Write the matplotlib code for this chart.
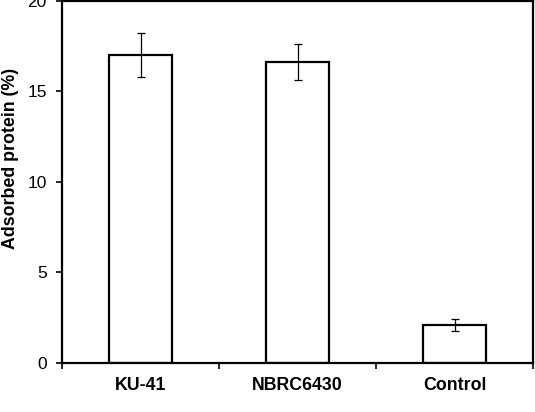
import matplotlib.pyplot as plt
import numpy as np

plt.rcParams['font.family'] = ['Liberation Sans', 'DejaVu Sans']

categories = ['KU-41', 'NBRC6430', 'Control']
values = [17.0, 16.6, 2.1]
errors = [1.2, 1.0, 0.35]
yticks = [0, 5, 10, 15, 20]

fig = plt.figure(figsize=(5.35, 4.12), dpi=100)
ax = fig.add_axes([0.1159, 0.119, 0.8804, 0.8795])

x = np.arange(len(categories))
ax.bar(x, values, width=0.4, color='white', edgecolor='black', linewidth=1.6, zorder=2)
ax.errorbar(x, values, yerr=errors, fmt='none', ecolor='black', elinewidth=0.9,
            capsize=3, capthick=0.9, zorder=3)

ax.set_xlim(-0.5, len(categories) - 0.5)
ax.set_ylim(0, 20)
ax.set_yticks(yticks)
ax.set_yticklabels([str(t) for t in yticks])

# ticks at category boundaries, labels centred under bars
ax.set_xticks(np.arange(len(categories) + 1) - 0.5)
ax.set_xticklabels([])
ax.set_xticks(x, minor=True)
ax.set_xticklabels(categories, minor=True, fontweight='bold', fontsize=12.8)
ax.tick_params(axis='x', which='minor', length=0, pad=10)
ax.tick_params(axis='x', which='major', direction='out', length=4, width=1.2)
ax.tick_params(axis='y', direction='out', length=4, width=1.2, labelsize=12.5, pad=7)

ax.set_ylabel('Adsorbed protein (%)', fontweight='bold', fontsize=12.8)
ax.yaxis.set_label_coords(-0.092, 0.565)

for s in ax.spines.values():
    s.set_linewidth(1.6)

fig.savefig('out.png', dpi=100)
